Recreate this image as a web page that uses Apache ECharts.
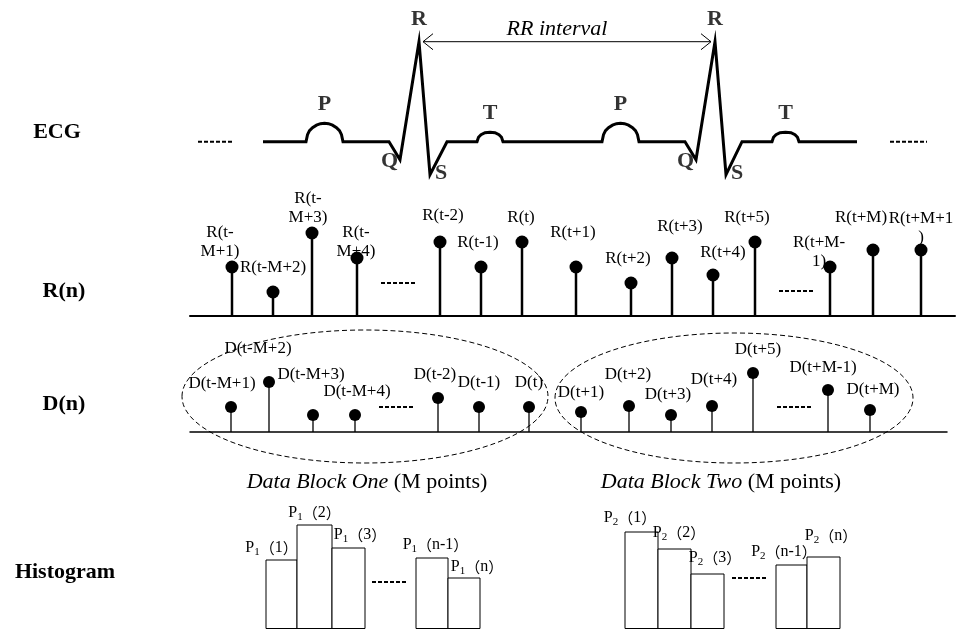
<!DOCTYPE html>
<html>
<head>
<meta charset="utf-8">
<script src="https://cdn.jsdelivr.net/npm/echarts@6/dist/echarts.min.js"></script>
<style>
  html, body { margin: 0; background: #fff; }
  #chart { width: 962px; height: 630px; }
</style>
</head>
<body>
<div id="chart"></div>
<script>
// ECG trace: time and amplitude (baseline = 0)
const ecgTime = [263,
  306, 307.5, 309.5, 312.5, 316.5, 320.5, 324.5, 328.5, 332.5, 336.5, 339.5, 341.5, 343,
  389, 400, 419, 430, 447,
  477, 478.5, 481, 485, 490, 495, 499, 501.5, 503,
  602, 603.5, 605.5, 608.5, 612.5, 616.5, 620.5, 624.5, 628.5, 632.5, 635.5, 637.5, 639,
  685, 696, 715, 726, 742,
  772, 773.5, 776, 780, 785.5, 791, 795, 797.5, 799,
  857];
const ecgAmp = [0,
  0, 7, 11, 14, 16.5, 18, 18.5, 18, 16.5, 14, 11, 7, 0,
  0, -18, 100, -33, 0,
  0, 4.5, 7, 9, 9.5, 9, 7, 4.5, 0,
  0, 7, 11, 14, 16.5, 18, 18.5, 18, 16.5, 14, 11, 7, 0,
  0, -18, 100, -33, 0,
  0, 4.5, 7, 9, 9.5, 9, 7, 4.5, 0,
  0];
const waveNames = ['P', 'Q', 'R', 'S', 'T', 'P', 'Q', 'R', 'S', 'T'];
const waveTime = [324.5, 400, 419, 430, 490, 620.5, 696, 715, 726, 785.5];
const waveAmp = [18.5, -18, 100, -33, 9.5, 18.5, -18, 100, -33, 9.5];
const rrPeaks = [419, 715];

// R(n) sequence
const rTime = [232, 273, 312, 357, 440, 481, 522, 576, 631, 672, 713, 755, 830, 873, 921];
const rVal = [49, 24, 83, 58, 74, 49, 74, 49, 33, 58, 41, 74, 49, 66, 66];
const rLabels = ['R(t-\nM+1)', 'R(t-M+2)', 'R(t-\nM+3)', 'R(t-\nM+4)', 'R(t-2)', 'R(t-1)', 'R(t)',
  'R(t+1)', 'R(t+2)', 'R(t+3)', 'R(t+4)', 'R(t+5)', 'R(t+M-\n1)', 'R(t+M)', 'R(t+M+1\n)'];

// D(n) sequence
const dTime = [231, 269, 313, 355, 438, 479, 529, 581, 629, 671, 712, 753, 828, 870];
const dVal = [25, 50, 17, 17, 34, 25, 25, 20, 26, 17, 26, 59, 42, 22];
const dLabels = ['D(t-M+1)', 'D(t-M+2)', 'D(t-M+3)', 'D(t-M+4)', 'D(t-2)', 'D(t-1)', 'D(t)',
  'D(t+1)', 'D(t+2)', 'D(t+3)', 'D(t+4)', 'D(t+5)', 'D(t+M-1)', 'D(t+M)'];
const blockNames = ['Data Block One', 'Data Block Two'];
const blockX = [[182, 548], [555, 913]];
const blockY = [[-31, 102], [-31, 99]];

// histograms
const p1Bins = [[266, 297], [297, 332], [332, 365], [416, 448], [448, 480]];
const p1Vals = [69, 104, 81, 71, 51];
const p2Bins = [[625, 658], [658, 691], [691, 724], [776, 807], [807, 840]];
const p2Vals = [97, 80, 55, 64, 72];
const binNames = ['1', '2', '3', 'n-1', 'n'];

// "......" marks: [from, to, level]
const ecgDots = [[198, 233, 0], [890, 927, 0]];
const rDots = [[381, 416, 33], [779, 814, 25]];
const dDots = [[379, 414, 25], [777, 813, 25]];
const hDots = [[372, 407, 47], [732, 767, 51]];

// label nudges (layout only)
const rShift = [[-12, -25], [0, -24], [-4, -25], [-1, -16], [3, -26], [-3, -24], [-1, -24],
  [-3, -34], [-3, -24], [8, -31], [10, -22], [-8, -24], [-11, -15], [-12, -32], [0, -22]];
const dShift = [[-9, -23], [-11, -33], [-2, -40], [2, -23], [-3, -23], [0, -24], [0, -24],
  [0, -19], [-1, -31], [-3, -20], [2, -26], [5, -23], [-5, -22], [3, -20]];
const p1Shift = [[-10, -12], [0, -12], [11.5, -13], [3.5, -13], [13, -11]];
const p2Shift = [[-11.5, -14], [4.5, -16], [7.5, -16], [-7.5, -13], [7.5, -21]];
const blockShift = [2, -13];

const SERIF = '"Liberation Serif", "Times New Roman", serif';
const CJK = '"Noto Sans CJK SC", sans-serif';

function txt(text, x, y, extra) {
  return Object.assign({
    text: text, x: x, y: y, fill: '#000',
    fontFamily: SERIF, fontSize: 17,
    align: 'center', verticalAlign: 'middle',
    textAlign: 'center', textVerticalAlign: 'middle'
  }, extra || {});
}

function dotsSeries(idx, dots) {
  return {
    type: 'custom', xAxisIndex: idx, yAxisIndex: idx, silent: true,
    data: dots,
    renderItem: function (params, api) {
      const a = api.coord([api.value(0), api.value(2)]);
      const b = api.coord([api.value(1), api.value(2)]);
      return {
        type: 'line',
        shape: { x1: a[0], y1: a[1], x2: b[0], y2: b[1] },
        style: { stroke: '#000', lineWidth: 2, lineDash: [4, 2] }
      };
    }
  };
}

function stemSeries(idx, times, vals, labels, shift, r, lw) {
  return {
    type: 'custom', xAxisIndex: idx, yAxisIndex: idx, silent: true,
    data: times.map(function (t, i) { return [t, vals[i]]; }),
    renderItem: function (params, api) {
      const i = params.dataIndex;
      const base = api.coord([api.value(0), 0]);
      const top = api.coord([api.value(0), api.value(1)]);
      return {
        type: 'group',
        children: [
          { type: 'line', shape: { x1: base[0], y1: base[1], x2: top[0], y2: top[1] },
            style: { stroke: '#000', lineWidth: lw } },
          { type: 'circle', shape: { cx: top[0], cy: top[1], r: r }, style: { fill: '#000' } },
          { type: 'text', z2: 10,
            style: txt(labels[i], top[0] + shift[i][0], top[1] + shift[i][1], { lineHeight: 19 }) }
        ]
      };
    }
  };
}

function histSeries(bins, vals, sub, shift) {
  return {
    type: 'custom', xAxisIndex: 3, yAxisIndex: 3, silent: true,
    data: bins.map(function (b, i) { return [b[0], b[1], vals[i]]; }),
    renderItem: function (params, api) {
      const i = params.dataIndex;
      const p0 = api.coord([api.value(0), 0]);
      const p1 = api.coord([api.value(1), api.value(2)]);
      const cx = (p0[0] + p1[0]) / 2;
      return {
        type: 'group',
        children: [
          { type: 'rect',
            shape: { x: p0[0], y: p1[1], width: p1[0] - p0[0], height: p0[1] - p1[1] - 0.5 },
            style: { fill: '#fff', stroke: '#000', lineWidth: 1 } },
          { type: 'text', z2: 10,
            style: txt('{a|P}{s|' + sub + '}{c|（}{a|' + binNames[i] + '}{c|）}',
              cx + shift[i][0], p1[1] + shift[i][1], {
                rich: {
                  a: { fontFamily: SERIF, fontSize: 16, fill: '#000' },
                  s: { fontFamily: SERIF, fontSize: 11, fill: '#000', padding: [8, 0, 0, 0] },
                  c: { fontFamily: CJK, fontSize: 15, fill: '#000' }
                }
              }) }
        ]
      };
    }
  };
}

const chart = echarts.init(document.getElementById('chart'));

const hiddenX = function (idx, min, max, showLine, w) {
  return {
    type: 'value', gridIndex: idx, min: min, max: max,
    axisLine: { show: showLine, onZero: true, lineStyle: { color: '#000', width: w || 1 } },
    axisTick: { show: false }, axisLabel: { show: false }, splitLine: { show: false }
  };
};
const hiddenY = function (idx, min, max) {
  return {
    type: 'value', gridIndex: idx, min: min, max: max, show: false,
    splitLine: { show: false }
  };
};

const option = {
  backgroundColor: '#fff',
  animation: false,
  grid: [
    { left: 0, width: 962, top: 31.7, height: 170 },
    { left: 190, width: 765, top: 216, height: 100 },
    { left: 190, width: 757, top: 327, height: 140 },
    { left: 0, width: 962, top: 509, height: 120 }
  ],
  xAxis: [
    hiddenX(0, 0, 962, false),
    hiddenX(1, 190, 955, true, 2),
    hiddenX(2, 190, 947, true, 1.5),
    hiddenX(3, 0, 962, false)
  ],
  yAxis: [
    hiddenY(0, -60, 110),
    hiddenY(1, 0, 100),
    hiddenY(2, -35, 105),
    hiddenY(3, 0, 120)
  ],
  graphic: [
    { type: 'text', style: txt('ECG', 57, 132, { fontSize: 22, fontWeight: 'bold' }) },
    { type: 'text', style: txt('R(n)', 64, 291, { fontSize: 22, fontWeight: 'bold' }) },
    { type: 'text', style: txt('D(n)', 64, 404, { fontSize: 22, fontWeight: 'bold' }) },
    { type: 'text', style: txt('Histogram', 65, 572, { fontSize: 22, fontWeight: 'bold' }) }
  ],
  series: [
    {
      type: 'line', xAxisIndex: 0, yAxisIndex: 0, silent: true,
      data: ecgTime.map(function (t, i) { return [t, ecgAmp[i]]; }),
      showSymbol: false, symbol: 'none',
      lineStyle: { color: '#000', width: 3, join: 'miter' }
    },
    {
      type: 'scatter', xAxisIndex: 0, yAxisIndex: 0, silent: true, symbolSize: 0,
      data: waveTime.map(function (t, i) {
        const n = waveNames[i];
        const pos = { P: ['top', 8, [0, 0]], R: ['top', 11, [0, 0]], T: ['top', 8, [0, 0]],
          Q: ['left', 2, [0, 2]], S: ['right', 5, [0, -1]] }[n];
        return {
          value: [t, waveAmp[i]], name: n,
          label: { show: true, position: pos[0], distance: pos[1], offset: pos[2] }
        };
      }),
      label: {
        show: true, formatter: '{b}', color: '#000',
        fontFamily: SERIF, fontSize: 22, fontWeight: 'bold'
      }
    },
    {
      type: 'custom', xAxisIndex: 0, yAxisIndex: 0, silent: true,
      data: [[rrPeaks[0], rrPeaks[1], 100]],
      renderItem: function (params, api) {
        const a = api.coord([api.value(0), api.value(2)]);
        const b = api.coord([api.value(1), api.value(2)]);
        const x1 = a[0] + 4, x2 = b[0] - 4, y = a[1];
        const st = { stroke: '#000', lineWidth: 1, fill: null };
        return {
          type: 'group',
          children: [
            { type: 'line', shape: { x1: x1, y1: y, x2: x2, y2: y }, style: st },
            { type: 'polyline', shape: { points: [[x1 + 10, y - 8], [x1, y], [x1 + 10, y + 8]] }, style: st },
            { type: 'polyline', shape: { points: [[x2 - 10, y - 8], [x2, y], [x2 - 10, y + 8]] }, style: st },
            { type: 'text',
              style: txt('RR interval', (x1 + x2) / 2 - 10, y - 12, { fontSize: 22, fontStyle: 'italic' }) }
          ]
        };
      }
    },
    dotsSeries(0, ecgDots),
    stemSeries(1, rTime, rVal, rLabels, rShift, 6.5, 2.5),
    dotsSeries(1, rDots),
    stemSeries(2, dTime, dVal, dLabels, dShift, 6, 1.3),
    dotsSeries(2, dDots),
    {
      type: 'custom', xAxisIndex: 2, yAxisIndex: 2, silent: true,
      data: blockX.map(function (b, i) { return [b[0], b[1], blockY[i][0], blockY[i][1]]; }),
      renderItem: function (params, api) {
        const i = params.dataIndex;
        const a = api.coord([api.value(0), api.value(2)]);
        const b = api.coord([api.value(1), api.value(3)]);
        const cx = (a[0] + b[0]) / 2, cy = (a[1] + b[1]) / 2;
        return {
          type: 'group',
          children: [
            { type: 'ellipse',
              shape: { cx: cx, cy: cy, rx: (b[0] - a[0]) / 2, ry: (a[1] - b[1]) / 2 },
              style: { fill: null, stroke: '#000', lineWidth: 1, lineDash: [5, 3] } },
            { type: 'text',
              style: txt('{i|' + blockNames[i] + '}{n| (M points)}', cx + blockShift[i], a[1] + 19, {
                rich: {
                  i: { fontFamily: SERIF, fontSize: 22, fontStyle: 'italic', fill: '#000' },
                  n: { fontFamily: SERIF, fontSize: 22, fill: '#000' }
                }
              }) }
          ]
        };
      }
    },
    histSeries(p1Bins, p1Vals, '1', p1Shift),
    histSeries(p2Bins, p2Vals, '2', p2Shift),
    dotsSeries(3, hDots)
  ]
};

chart.setOption(option);
window.addEventListener('resize', function () { chart.resize(); });
</script>
</body>
</html>
